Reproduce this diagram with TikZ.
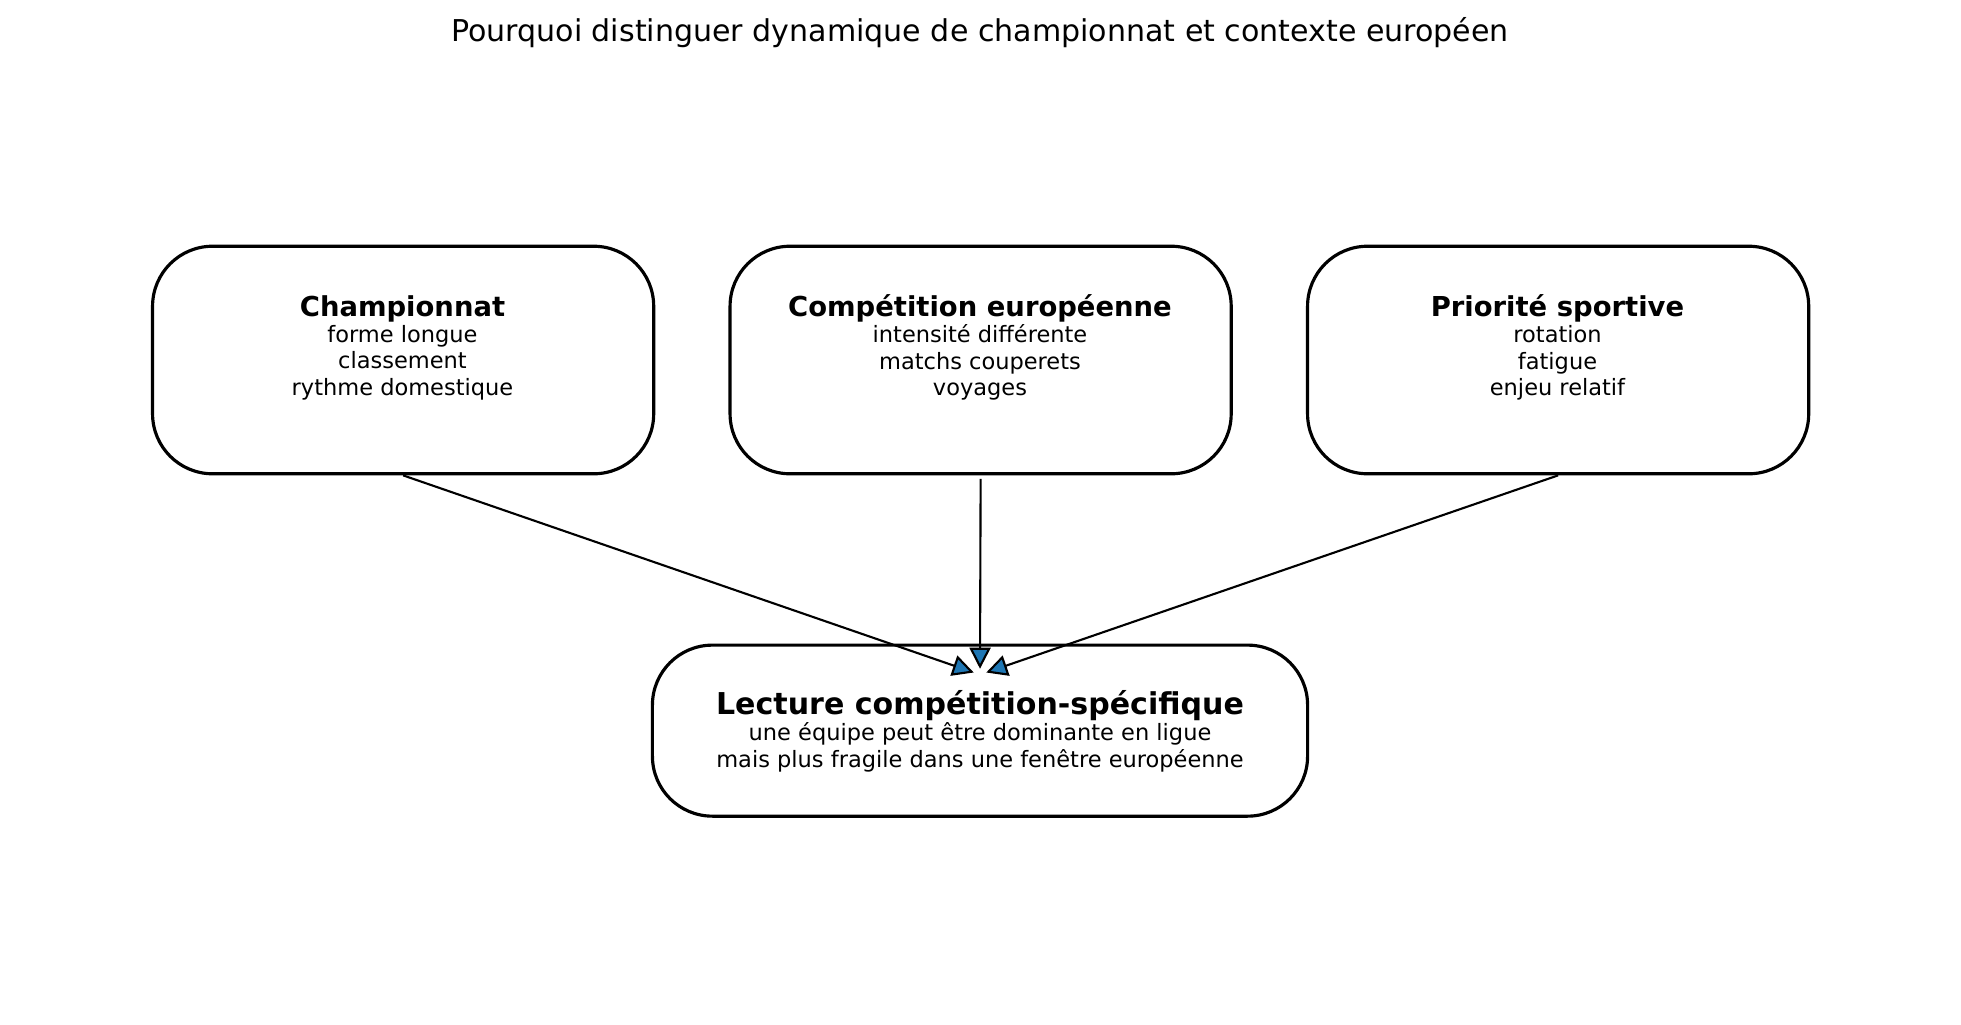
\documentclass[tikz,border=0pt]{standalone}
\usepackage{fontspec}
\setmainfont{DejaVu Sans}
\usetikzlibrary{arrows.meta}
\definecolor{tabblue}{HTML}{1F77B4}
\tikzset{
  box/.style={draw, line width=0.9pt, rounded corners=0.6cm, minimum width=#1},
  box/.default={5.01cm},
  lbl/.style={align=center, inner sep=0pt, font=\fontsize{6.4}{7.5}\selectfont},
  link/.style={line width=0.6pt, -{Stealth[length=6pt, width=6pt, fill=tabblue, inset=0pt]}}
}
\begin{document}
\begin{tikzpicture}[x=0.0125cm, y=-0.0125cm]
\useasboundingbox (0,0) rectangle (1568.8,819.2);
\node[font=\fontsize{8.55}{10}\selectfont] (title) at (784,26) {Pourquoi distinguer dynamique de championnat et contexte européen};

\node[box, minimum height=2.275cm] (champ) at (322.5,288) {};
\node[box, minimum height=2.275cm] (europe) at (784.5,288) {};
\node[box, minimum height=2.275cm] (prio) at (1246.5,288) {};
\node[box=6.55cm, minimum height=1.71cm] (lecture) at (784,584.5) {};

\node[lbl] (tchamp) at (322,278) {\textbf{\fontsize{7.8}{9.5}\selectfont Championnat}\\forme longue\\classement\\rythme domestique};
\node[lbl] (teurope) at (784,278) {\textbf{\fontsize{7.8}{9.5}\selectfont Compétition européenne}\\intensité différente\\matchs couperets\\voyages};
\node[lbl] (tprio) at (1246,278) {\textbf{\fontsize{7.8}{9.5}\selectfont Priorité sportive}\\rotation\\fatigue\\enjeu relatif};
\node[lbl] (tlecture) at (784,585) {\textbf{\fontsize{8.55}{10}\selectfont Lecture compétition-spécifique}\\une équipe peut être dominante en ligue\\mais plus fragile dans une fenêtre européenne};

\coordinate (hl) at (779,538);
\coordinate (hm) at (784,535);
\coordinate (hr) at (789,538);
\draw[link] (champ.south) -- (hl);
\draw[link] ([yshift=-1pt]europe.south) -- (hm);
\draw[link] (prio.south) -- (hr);
\end{tikzpicture}
\end{document}
